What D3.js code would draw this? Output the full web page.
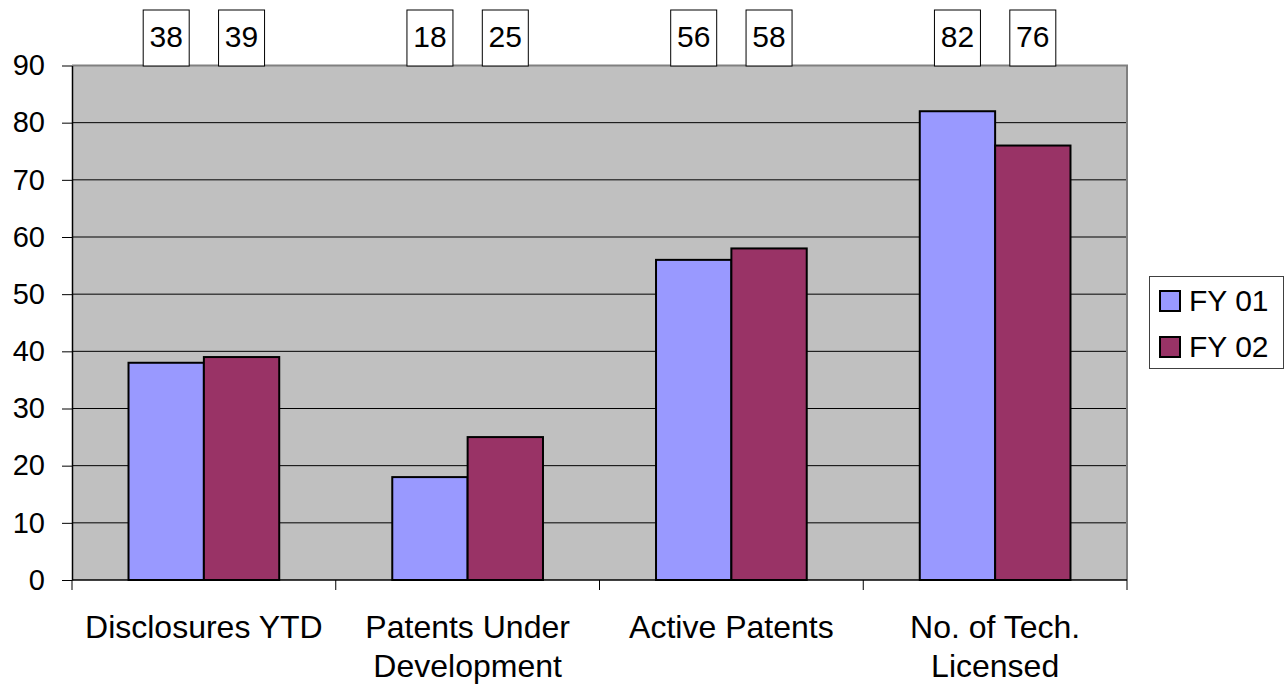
<!DOCTYPE html>
<html>
<head>
<meta charset="utf-8">
<script src="https://cdn.jsdelivr.net/npm/d3@7"></script>
<style>
  html, body { margin: 0; padding: 0; background: #fff; }
  svg { display: block; font-family: "Liberation Sans", Arial, sans-serif; }
</style>
</head>
<body>
<svg id="chart" width="1286" height="686"></svg>
<script>
// Chart data
const categories = ["Disclosures YTD", "Patents Under\nDevelopment", "Active Patents", "No. of Tech.\nLicensed"];
const seriesNames = ["FY 01", "FY 02"];
const fy01 = [38, 18, 56, 82];
const fy02 = [39, 25, 58, 76];
const yTicks = [0, 10, 20, 30, 40, 50, 60, 70, 80, 90];
const seriesColors = ["#9999FF", "#993366"];

const svg = d3.select("#chart");
const plot = { left: 72, right: 1127, top: 65.5, bottom: 580 };

const x0 = d3.scaleBand().domain(categories).range([plot.left, plot.right]).padding(0);
const x1 = d3.scaleBand().domain(seriesNames).range([0, x0.bandwidth()]).paddingInner(0).paddingOuter(0.75);
const y = d3.scaleLinear().domain([0, 90]).range([plot.bottom, plot.top]);
const color = d3.scaleOrdinal().domain(seriesNames).range(seriesColors);

const rows = categories.map((c, i) => ({ cat: c, values: [fy01[i], fy02[i]] }));

// Plot background
svg.append("rect")
  .attr("x", plot.left).attr("y", plot.top)
  .attr("width", plot.right - plot.left).attr("height", plot.bottom - plot.top)
  .attr("fill", "#C0C0C0");

// Horizontal gridlines
svg.append("g").selectAll("line")
  .data(yTicks.filter(t => t > 0 && t < 90))
  .join("line")
  .attr("x1", plot.left).attr("x2", plot.right)
  .attr("y1", d => y(d)).attr("y2", d => y(d))
  .attr("stroke", "#000").attr("stroke-width", 1);

// Plot border (top and right)
svg.append("path")
  .attr("d", `M${plot.left},${y(90)}H${plot.right}V${plot.bottom}`)
  .attr("fill", "none").attr("stroke", "#808080").attr("stroke-width", 2);

// Bars
const groups = svg.append("g").selectAll("g")
  .data(rows)
  .join("g")
  .attr("transform", d => `translate(${x0(d.cat)},0)`);

groups.selectAll("rect")
  .data(d => d.values.map((v, j) => ({ name: seriesNames[j], value: v })))
  .join("rect")
  .attr("x", d => x1(d.name))
  .attr("y", d => y(d.value))
  .attr("width", x1.bandwidth())
  .attr("height", d => y(0) - y(d.value))
  .attr("fill", d => color(d.name))
  .attr("stroke", "#000").attr("stroke-width", 2);

// Y axis
const yAxis = svg.append("g")
  .attr("transform", `translate(${plot.left},0)`)
  .call(d3.axisLeft(y).tickValues(yTicks).tickSize(10).tickPadding(17).tickSizeOuter(0));
yAxis.select(".domain").attr("stroke", "#000").attr("stroke-width", 1.5);
yAxis.selectAll(".tick line").attr("stroke", "#000").attr("stroke-width", 1);
yAxis.selectAll(".tick text")
  .attr("font-size", 29).attr("font-family", "Liberation Sans, Arial, sans-serif")
  .attr("fill", "#000");

// X axis line and category boundary ticks
svg.append("line")
  .attr("x1", plot.left).attr("x2", plot.right)
  .attr("y1", y(0)).attr("y2", y(0))
  .attr("stroke", "#000").attr("stroke-width", 1.5);

const boundaries = categories.map(c => x0(c)).concat([x0(categories[categories.length - 1]) + x0.bandwidth()]);
svg.append("g").selectAll("line")
  .data(boundaries)
  .join("line")
  .attr("x1", d => d).attr("x2", d => d)
  .attr("y1", y(0)).attr("y2", y(0) + 10)
  .attr("stroke", "#000").attr("stroke-width", 1);

// Category labels
const catText = svg.append("g").selectAll("text")
  .data(categories)
  .join("text")
  .attr("x", d => x0(d) + x0.bandwidth() / 2)
  .attr("y", 638)
  .attr("text-anchor", "middle")
  .attr("font-size", 32)
  .attr("fill", "#000");
catText.each(function (d) {
  const t = d3.select(this);
  d.split("\n").forEach((line, k) => {
    t.append("tspan")
      .attr("x", x0(d) + x0.bandwidth() / 2)
      .attr("dy", k === 0 ? 0 : 39)
      .text(line);
  });
});

// Value labels in boxes above the plot
const labelData = [];
rows.forEach(r => r.values.forEach((v, j) => labelData.push({ cat: r.cat, name: seriesNames[j], value: v })));
const lbl = svg.append("g").selectAll("g")
  .data(labelData)
  .join("g")
  .attr("transform", d => `translate(${x0(d.cat) + x1(d.name) + x1.bandwidth() / 2},0)`);
lbl.append("rect")
  .attr("x", -23).attr("y", 10)
  .attr("width", 46).attr("height", 56)
  .attr("fill", "#fff").attr("stroke", "#000").attr("stroke-width", 1);
lbl.append("text")
  .attr("x", 0).attr("y", 47)
  .attr("text-anchor", "middle")
  .attr("font-size", 30)
  .attr("fill", "#000")
  .text(d => d.value);

// Legend
const legend = svg.append("g");
legend.append("rect")
  .attr("x", 1149.5).attr("y", 276.5)
  .attr("width", 134).attr("height", 92)
  .attr("fill", "#fff").attr("stroke", "#404040").attr("stroke-width", 1);
const items = legend.selectAll("g.item")
  .data(seriesNames)
  .join("g")
  .attr("class", "item")
  .attr("transform", (d, i) => `translate(0,${i * 46})`);
items.append("rect")
  .attr("x", 1160).attr("y", 291)
  .attr("width", 20).attr("height", 20)
  .attr("fill", d => color(d))
  .attr("stroke", "#000").attr("stroke-width", 2);
items.append("text")
  .attr("x", 1189).attr("y", 311)
  .attr("font-size", 30)
  .attr("fill", "#000")
  .text(d => d);
</script>
</body>
</html>
